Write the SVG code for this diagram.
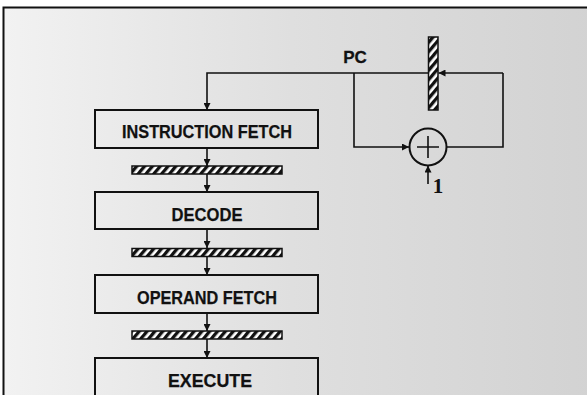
<svg xmlns="http://www.w3.org/2000/svg" width="587" height="395" viewBox="0 0 587 395">
<defs>
<linearGradient id="bg" x1="0" y1="0" x2="1" y2="0">
<stop offset="0" stop-color="#f2f2f2"/>
<stop offset="0.45" stop-color="#dfdfdf"/>
<stop offset="1" stop-color="#d0d0d0"/>
</linearGradient>
<pattern id="hatch" patternUnits="userSpaceOnUse" width="6" height="6" patternTransform="rotate(40)">
<rect width="6" height="6" fill="#ffffff"/>
<rect width="3.3" height="6" fill="#111"/>
</pattern>
<marker id="ah" viewBox="0 0 10 10" refX="10" refY="5" markerWidth="7" markerHeight="7" markerUnits="userSpaceOnUse" orient="auto">
<path d="M0,0 L10,5 L0,10 z" fill="#111"/>
</marker>
<style>
.box{fill:none;stroke:#111;stroke-width:2}
.bar{fill:url(#hatch);stroke:#111;stroke-width:1.5}
.ln{fill:none;stroke:#111;stroke-width:1.6}
.arr{fill:none;stroke:#111;stroke-width:1.6;marker-end:url(#ah)}
.lbl{font-family:"Liberation Sans",Arial,sans-serif;font-weight:bold;font-size:18.5px;fill:#111;stroke:#111;stroke-width:0.25;text-anchor:middle}
</style>
</defs>
<rect width="587" height="395" fill="#ffffff"/>
<rect x="3.5" y="7.5" width="640" height="440" fill="url(#bg)" stroke="#111" stroke-width="2"/>

<g id="connectors">
<path class="arr" d="M428,73 L207,73 L207,110"/>
<path class="arr" d="M503,73 L438.5,73"/>
<path class="ln" d="M447,147 L503,147 L503,73"/>
<path class="arr" d="M354,73 L354,147 L409,147"/>
<path class="arr" d="M428,184 L428,165.5"/>
<path class="arr" d="M207,148 L207,166"/>
<path class="arr" d="M207,174 L207,192"/>
<path class="arr" d="M207,229 L207,248"/>
<path class="arr" d="M207,257 L207,275"/>
<path class="arr" d="M207,313 L207,331"/>
<path class="arr" d="M207,339 L207,358"/>
</g>

<g id="pc-register">
<rect class="bar" x="428.5" y="37" width="9.5" height="73"/>
<text x="355" y="63" font-family="Liberation Sans,Arial,sans-serif" font-weight="bold" font-size="17" text-anchor="middle" fill="#111" stroke="#111" stroke-width="0.3">PC</text>
</g>

<g id="adder">
<circle cx="428" cy="147" r="18.5" fill="none" stroke="#111" stroke-width="2"/>
<path class="ln" d="M428,136 L428,158 M417,147 L439,147" stroke-width="1.2"/>
<text x="438" y="193" font-family="Liberation Serif,'Times New Roman',serif" font-weight="bold" font-size="21" text-anchor="middle" fill="#111">1</text>
</g>

<g id="instruction-fetch">
<rect class="box" x="95" y="110" width="223" height="38"/>
<text class="lbl" x="207" y="138" textLength="170" lengthAdjust="spacingAndGlyphs">INSTRUCTION FETCH</text>
</g>
<g id="latch1"><rect class="bar" x="132" y="166" width="150" height="8"/></g>

<g id="decode">
<rect class="box" x="95" y="192" width="223" height="37"/>
<text class="lbl" x="207" y="221" textLength="71" lengthAdjust="spacingAndGlyphs">DECODE</text>
</g>
<g id="latch2"><rect class="bar" x="132" y="248.5" width="150" height="8"/></g>

<g id="operand-fetch">
<rect class="box" x="95" y="275" width="223" height="38"/>
<text class="lbl" x="207" y="304" textLength="140" lengthAdjust="spacingAndGlyphs">OPERAND FETCH</text>
</g>
<g id="latch3"><rect class="bar" x="132" y="331" width="150" height="8"/></g>

<g id="execute">
<rect class="box" x="95" y="358" width="223" height="45"/>
<text class="lbl" x="210" y="387" textLength="84" lengthAdjust="spacingAndGlyphs">EXECUTE</text>
</g>
</svg>
